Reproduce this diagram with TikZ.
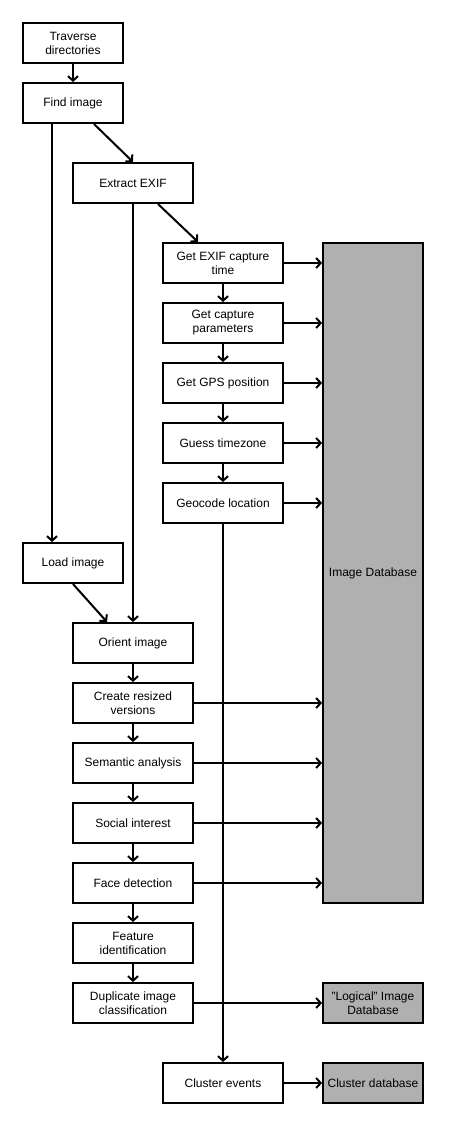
\documentclass[tikz,border=0pt]{standalone}
\usepackage{fontspec}
\setmainfont{Liberation Sans}
\usepackage{tikz}
\usetikzlibrary{arrows.meta}

\begin{document}
\begin{tikzpicture}[x=1pt,y=-1pt,
		procbox/.style={draw,line width=2pt,minimum width=100pt,minimum height=40pt,inner sep=0pt,align=center,font=\fontsize{12}{14}\selectfont},
		widebox/.style={procbox,minimum width=120pt},
		dbbox/.style={procbox,fill=black!31},
		flow/.style={line width=2pt,-{Straight Barb[length=4.5pt,width=10pt]}}]
		% page size
		\useasboundingbox (0,0) rectangle (455,1123);
		% first column
		\node[procbox] (trav) at (73,43) {Traverse\\directories};
		\node[procbox] (find) at (73,103) {Find image};
		\node[procbox] (load) at (73,563) {Load image};
		% EXIF steps
		\node[widebox] (exif) at (133,183) {Extract EXIF};
		\node[widebox] (time) at (223,263) {Get EXIF capture\\time};
		\node[widebox] (params) at (223,323) {Get capture\\parameters};
		\node[widebox] (gps) at (223,383) {Get GPS position};
		\node[widebox] (tz) at (223,443) {Guess timezone};
		\node[widebox] (geo) at (223,503) {Geocode location};
		% image steps
		\node[widebox] (orient) at (133,643) {Orient image};
		\node[widebox] (resize) at (133,703) {Create resized\\versions};
		\node[widebox] (semantic) at (133,763) {Semantic analysis};
		\node[widebox] (social) at (133,823) {Social interest};
		\node[widebox] (face) at (133,883) {Face detection};
		\node[widebox] (feature) at (133,943) {Feature\\identification};
		\node[widebox] (dup) at (133,1003) {Duplicate image\\classification};
		\node[widebox] (cluster) at (223,1083) {Cluster events};
		% databases
		\node[dbbox,minimum height=660pt] (imgdb) at (373,573) {Image Database};
		\node[dbbox] (logdb) at (373,1003) {"Logical" Image\\Database};
		\node[dbbox] (cldb) at (373,1083) {Cluster database};
		% arrows
		\draw[flow] (trav) -- (find);
		\draw[flow] ([xshift=21pt]find.south) -- (exif.north);
		\draw[flow] ([xshift=-21pt]find.south) -- ([xshift=-21pt]load.north);
		\draw[flow] (exif.south) -- (orient.north);
		\draw[flow] ([xshift=25pt]exif.south) -- ([xshift=-25pt]time.north);
		\draw[flow] (time) -- (params);
		\draw[flow] (params) -- (gps);
		\draw[flow] (gps) -- (tz);
		\draw[flow] (tz) -- (geo);
		\draw[flow] (geo) -- (cluster);
		\draw[flow] (load.south) -- ([xshift=-26pt]orient.north);
		\draw[flow] (orient) -- (resize);
		\draw[flow] (resize) -- (semantic);
		\draw[flow] (semantic) -- (social);
		\draw[flow] (social) -- (face);
		\draw[flow] (face) -- (feature);
		\draw[flow] (feature) -- (dup);
		\foreach \s in {time,params,gps,tz,geo,resize,semantic,social,face}
			\draw[flow] (\s.east) -- (\s.east -| imgdb.west);
		\draw[flow] (dup) -- (logdb);
		\draw[flow] (cluster) -- (cldb);
	\end{tikzpicture}
\end{document}
